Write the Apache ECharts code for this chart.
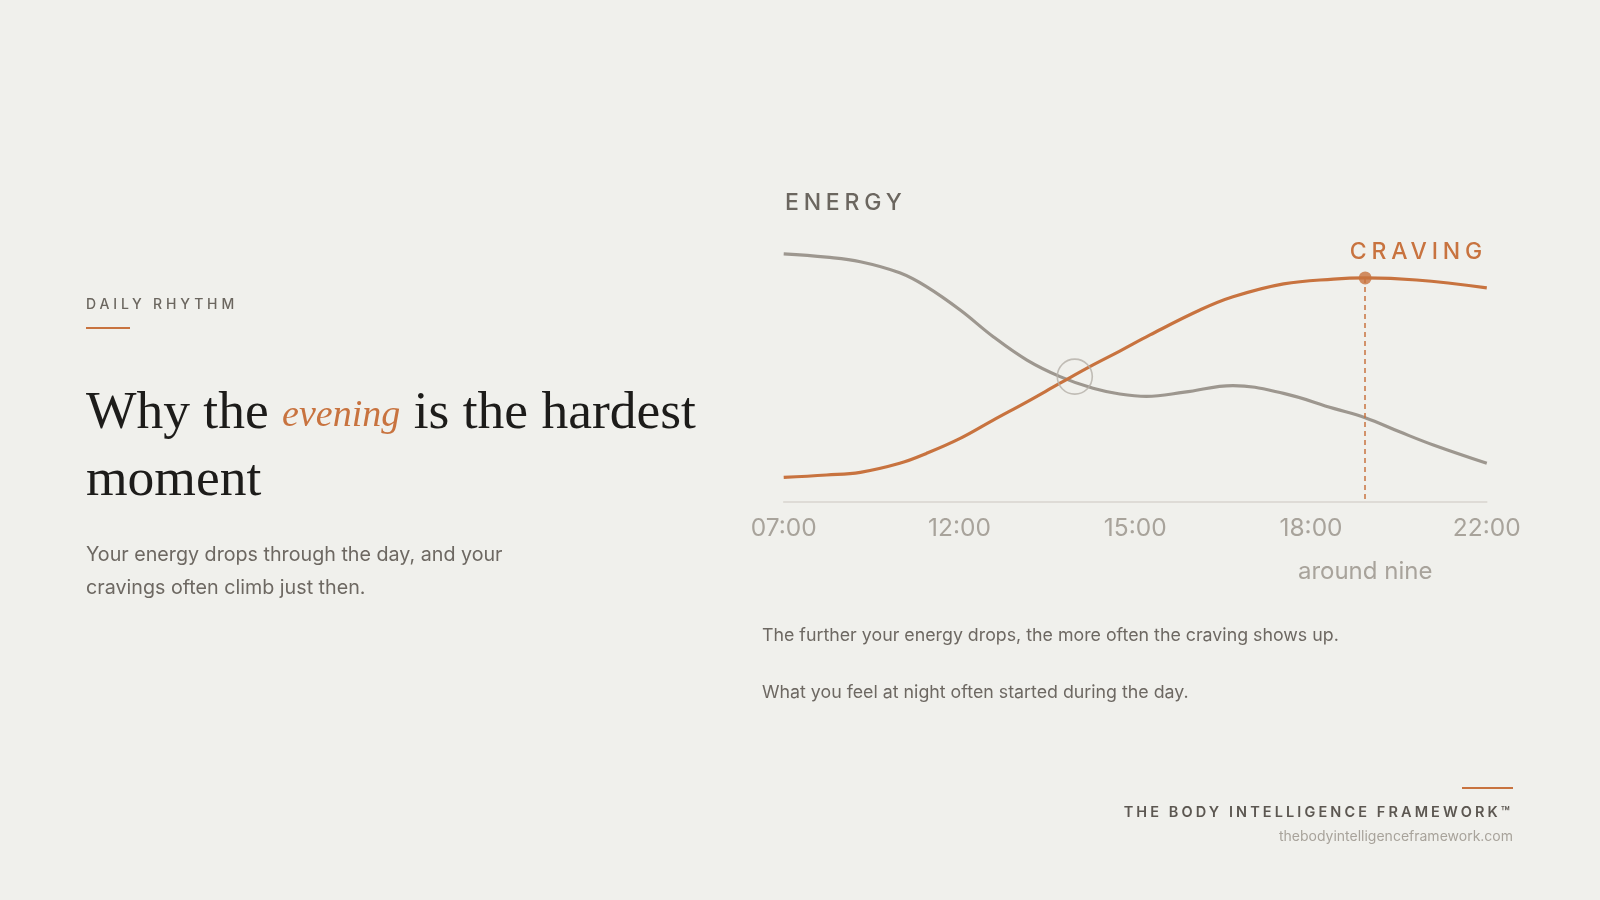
<!DOCTYPE html>
<html>
<head>
<meta charset="utf-8">
<title>Why the evening is the hardest moment</title>
<script src="https://cdn.jsdelivr.net/npm/echarts@6/dist/echarts.min.js"></script>
<style>
  :root {
    --bg: #f0f0ec;
    --ink: #1d1c1a;
    --body: #6d6862;
    --muted: #a8a39b;
    --accent: #c8733f;
    --energy: #9d978f;
    --rule: #d8d4ce;
  }
  html, body { margin: 0; padding: 0; background: var(--bg); }
  body { width: 1600px; height: 900px; position: relative; overflow: hidden; font-family: Inter, "Noto Sans", sans-serif; }
  #chart { position: absolute; left: 0; top: 0; width: 1600px; height: 900px; }
  .txt { position: absolute; pointer-events: none; white-space: nowrap; z-index: 2; }
  .eyebrow { left: 86px; top: 295px; font-size: 14px; line-height: 18px; letter-spacing: 3.85px; color: #6b665f; font-weight: 500; }
  .bar { position: absolute; background: var(--accent); height: 2px; z-index: 2; }
  .title { left: 86px; top: 377px; font-family: "Liberation Serif", "DejaVu Serif", serif; font-size: 53.5px; line-height: 67px; color: var(--ink); }
  .title em { font-style: italic; font-size: 38px; line-height: 0; color: var(--accent); position: relative; top: -2px; }
  .lede { left: 86px; top: 538px; font-size: 19.7px; line-height: 33px; color: var(--body); }
  .note { left: 762px; font-size: 17.8px; line-height: 24px; color: var(--body); }
  .series-tag { font-size: 23px; line-height: 28px; letter-spacing: 4.8px; font-weight: 500; }
  .foot { right: 87px; font-size: 14.5px; line-height: 18px; letter-spacing: 3.1px; font-weight: 600; color: #5c5751; }
  .url { right: 87px; font-size: 14px; line-height: 18px; color: var(--muted); }
</style>
</head>
<body>
<div id="chart"></div>

<div class="txt eyebrow">DAILY RHYTHM</div>
<div class="bar" style="left:86px; top:327px; width:44px;"></div>
<div class="txt title">Why the <em>evening</em> is the hardest<br>moment</div>
<div class="txt lede">Your energy drops through the day, and your<br>cravings often climb just then.</div>

<div class="txt series-tag" style="left:785px; top:188px; color:#6b665f;">ENERGY</div>
<div class="txt series-tag" style="right:113px; top:237px; color:var(--accent);">CRAVING</div>

<div class="txt note" style="top:623px;">The further your energy drops, the more often the craving shows up.</div>
<div class="txt note" style="top:680px;">What you feel at night often started during the day.</div>

<div class="bar" style="left:1462px; top:787px; width:51px;"></div>
<div class="txt foot" style="top:803px;">THE BODY INTELLIGENCE FRAMEWORK™</div>
<div class="txt url" style="top:827px;">thebodyintelligenceframework.com</div>

<script>
(function() {
  var style = getComputedStyle(document.documentElement);
  var accent = style.getPropertyValue('--accent').trim();
  var energyColor = style.getPropertyValue('--energy').trim();
  var muted = style.getPropertyValue('--muted').trim();
  var rule = style.getPropertyValue('--rule').trim();

  // x runs 0..100 across the day, labels sit at equal steps
  var tickLabels = ['07:00', '12:00', '15:00', '18:00', '22:00'];

  // energy curve
  var energyX = [0, 6.1, 10.9, 16.5, 20.3, 25.1, 29.8, 34.6, 39.3, 44, 47.8, 51.6, 57, 63.9, 71.1, 78.2, 82.7, 87.6, 92.4, 100];
  var energyY = [82.7, 81.6, 80.1, 76.4, 71.8, 64, 55.1, 47.3, 41.8, 37.9, 36, 35.2, 36.6, 38.8, 36.2, 31.2, 28.1, 23.4, 19, 12.9];

  // craving curve
  var cravingX = [0, 6.1, 10.9, 16.5, 20.3, 25.1, 29.8, 34.6, 39.3, 44, 47.8, 52.1, 59.2, 63.9, 71.1, 78.2, 82.7, 90, 100];
  var cravingY = [8.2, 9, 9.9, 12.9, 16.2, 21.2, 27.3, 33.4, 39.6, 45.7, 50.3, 55.7, 64, 68.4, 72.7, 74.3, 74.7, 74, 71.4];

  // markers
  var crossPoint = [41.4, 41.8];
  var peakPoint = [82.7, 74.7];
  var peakLabel = 'around nine';

  function pairs(xs, ys) {
    return xs.map(function(x, i) { return [x, ys[i]]; });
  }

  var chart = echarts.init(document.getElementById('chart'), null, { renderer: 'canvas' });
  chart.setOption({
    animation: false,
    grid: { left: 783.7, right: 113.2, top: 202, bottom: 398 },
    xAxis: {
      type: 'value',
      min: 0,
      max: 100,
      interval: 25,
      axisLine: { show: true, lineStyle: { color: rule, width: 1.5 } },
      axisTick: { show: false },
      splitLine: { show: false },
      axisLabel: {
        color: muted,
        fontFamily: 'Inter',
        fontSize: 24.5,
        margin: 14,
        formatter: function(v) { return tickLabels[Math.round(v / 25)]; }
      }
    },
    yAxis: {
      type: 'value',
      min: 0,
      max: 100,
      show: false
    },
    series: [
      {
        name: 'Energy',
        type: 'line',
        data: pairs(energyX, energyY),
        smooth: 0.4,
        showSymbol: false,
        lineStyle: { color: energyColor, width: 3.2 },
        z: 2
      },
      {
        name: 'Craving',
        type: 'line',
        data: pairs(cravingX, cravingY),
        smooth: 0.4,
        showSymbol: false,
        lineStyle: { color: accent, width: 3.2 },
        z: 3
      },
      {
        name: 'Crossing',
        type: 'scatter',
        data: [crossPoint],
        symbolSize: 35,
        itemStyle: { color: 'rgba(0,0,0,0)', borderColor: '#b4afa7', borderWidth: 1.6 },
        z: 4
      },
      {
        name: 'Peak',
        type: 'scatter',
        data: [peakPoint],
        symbolSize: 13,
        itemStyle: { color: accent },
        markLine: {
          silent: true,
          symbol: 'none',
          label: { show: false },
          lineStyle: { color: accent, width: 1.5, type: [5, 4] },
          data: [[{ coord: peakPoint }, { coord: [peakPoint[0], 0.8] }]]
        },
        z: 5
      }
    ]
  });

  var px = chart.convertToPixel({ gridIndex: 0 }, [peakPoint[0], 0]);
  chart.setOption({
    graphic: [{
      type: 'text',
      x: px[0],
      y: 572,
      style: {
        text: peakLabel,
        fill: muted,
        font: '24px Inter',
        align: 'center',
        verticalAlign: 'middle'
      }
    }]
  });
  window.addEventListener('resize', function() { chart.resize(); });
})();
</script>
</body>
</html>
